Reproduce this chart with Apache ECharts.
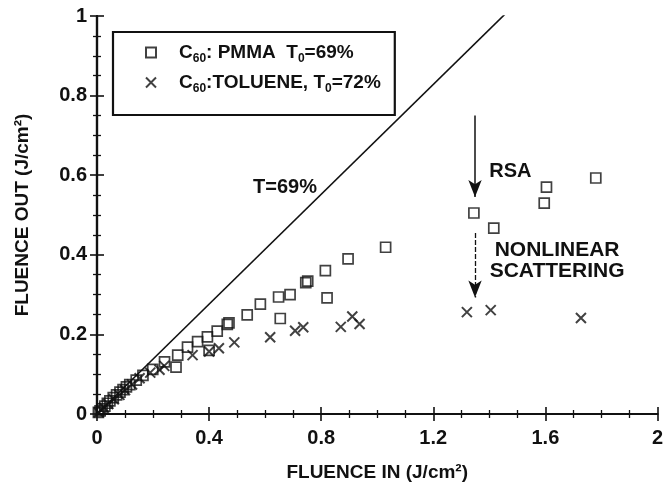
<!DOCTYPE html>
<html>
<head>
<meta charset="utf-8">
<script src="https://cdn.jsdelivr.net/npm/echarts@6/dist/echarts.min.js"></script>
<style>
  html, body { margin: 0; padding: 0; background: #fff; }
  #chart { width: 666px; height: 490px; }
</style>
</head>
<body>
<div id="chart"></div>
<script>
// C60 in PMMA: fluence in vs fluence out (J/cm^2)
const pmma = [
  [0.005, 0.004], [0.011, 0.008], [0.018, 0.013], [0.028, 0.020], [0.037, 0.027],
  [0.046, 0.033], [0.058, 0.041], [0.070, 0.048], [0.082, 0.055], [0.093, 0.061],
  [0.105, 0.068], [0.117, 0.074], [0.140, 0.085], [0.164, 0.097], [0.199, 0.112],
  [0.241, 0.131], [0.282, 0.118], [0.288, 0.148], [0.323, 0.168], [0.359, 0.182],
  [0.394, 0.194], [0.400, 0.160], [0.429, 0.208], [0.465, 0.225], [0.471, 0.229],
  [0.536, 0.249], [0.583, 0.276], [0.648, 0.294], [0.654, 0.240], [0.689, 0.300],
  [0.745, 0.330], [0.752, 0.334], [0.815, 0.360], [0.821, 0.292], [0.896, 0.390],
  [1.030, 0.419], [1.345, 0.505], [1.416, 0.467], [1.596, 0.530], [1.604, 0.570],
  [1.780, 0.593]
];
// C60 in toluene
const toluene = [
  [0.006, 0.004], [0.015, 0.010], [0.025, 0.016], [0.040, 0.025], [0.060, 0.037],
  [0.080, 0.048], [0.100, 0.060], [0.125, 0.074], [0.152, 0.090], [0.190, 0.104],
  [0.223, 0.111], [0.240, 0.121], [0.341, 0.148], [0.400, 0.157], [0.435, 0.165],
  [0.490, 0.180], [0.618, 0.193], [0.707, 0.209], [0.736, 0.218], [0.870, 0.219],
  [0.911, 0.245], [0.937, 0.226], [1.320, 0.256], [1.405, 0.261], [1.727, 0.241]
];
// linear transmission reference
const linearT = 0.69;
const linearX = [0, 2];
const xTicks = [0, 0.4, 0.8, 1.2, 1.6, 2];
const yTicks = [0, 0.2, 0.4, 0.6, 0.8, 1];

const FONT = '"Liberation Sans", Arial, Helvetica, sans-serif';
const INK = '#111';

const chart = echarts.init(document.getElementById('chart'), null, { renderer: 'canvas' });

const axisCommon = {
  type: 'value',
  axisLine: { show: true, lineStyle: { color: INK, width: 2.2 } },
  axisTick: { show: true, inside: true, length: 7, lineStyle: { color: INK, width: 1.6 } },
  minorTick: { show: true, splitNumber: 4, length: 4, lineStyle: { color: INK, width: 1.3 } },
  splitLine: { show: false },
  axisLabel: { color: INK, fontFamily: FONT, fontSize: 20, fontWeight: 'bold' }
};

const crossPath = 'path://M0,0L10,10M10,0L0,10';

const option = {
  animation: false,
  backgroundColor: '#fff',
  grid: { left: 97, right: 4, top: 16, bottom: 76 },
  legend: {
    orient: 'vertical',
    left: 113, top: 32,
    padding: [8, 14, 20, 32],
    itemGap: 5,
    itemWidth: 10, itemHeight: 10,
    borderColor: INK, borderWidth: 2.2,
    data: ['PMMA', 'TOLUENE'],
    formatter: function (name) {
      return name === 'PMMA'
        ? '{n|C}{s|60}{n|: PMMA  T}{s|0}{n|=69%}'
        : '{n|C}{s|60}{n|:TOLUENE, T}{s|0}{n|=72%}';
    },
    textStyle: {
      color: INK,
      padding: [0, 0, 0, 18],
      rich: {
        n: { fontFamily: FONT, fontSize: 19, fontWeight: 'bold', color: INK, lineHeight: 24 },
        s: { fontFamily: FONT, fontSize: 12, fontWeight: 'bold', color: INK, lineHeight: 24, padding: [13, 0, 0, 0] }
      }
    }
  },
  xAxis: [
    Object.assign({}, axisCommon, {
      min: 0, max: 2, interval: 0.4,
      name: 'FLUENCE IN (J/cm\u00B2)', nameLocation: 'middle', nameGap: 49,
      nameTextStyle: { color: INK, fontFamily: FONT, fontSize: 19, fontWeight: 'bold' },
      axisLabel: Object.assign({}, axisCommon.axisLabel, { margin: 14 })
    }),
    Object.assign({}, axisCommon, {
      position: 'top', min: 0, max: 2, interval: 0.4,
      axisLabel: { show: false }
    })
  ],
  yAxis: [
    Object.assign({}, axisCommon, {
      min: 0, max: 1, interval: 0.2,
      name: 'FLUENCE OUT (J/cm\u00B2)', nameLocation: 'middle', nameGap: 65,
      nameTextStyle: { color: INK, fontFamily: FONT, fontSize: 19, fontWeight: 'bold' },
      axisLabel: Object.assign({}, axisCommon.axisLabel, { margin: 10 })
    }),
    Object.assign({}, axisCommon, {
      position: 'right', min: 0, max: 1, interval: 0.2,
      axisLabel: { show: false }
    })
  ],
  series: [
    {
      name: 'T=69%',
      type: 'line',
      data: linearX.map(x => [x, linearT * x]),
      showSymbol: false,
      clip: true,
      lineStyle: { color: INK, width: 1.6 },
      silent: true
    },
    {
      name: 'PMMA',
      type: 'scatter',
      data: pmma,
      symbol: 'rect',
      symbolSize: 10,
      itemStyle: { color: 'rgba(0,0,0,0)', borderColor: INK, borderWidth: 1.7 }
    },
    {
      name: 'TOLUENE',
      type: 'scatter',
      data: toluene,
      symbol: crossPath,
      symbolSize: 10,
      itemStyle: { color: 'rgba(0,0,0,0)', borderColor: INK, borderWidth: 2 }
    },
    {
      // annotation arrows
      type: 'line',
      data: [],
      markLine: {
        silent: true,
        symbol: ['none', 'arrow'],
        symbolSize: [10, 17],
        label: { show: false },
        lineStyle: { color: INK, width: 1.5, type: 'solid' },
        data: [
          [{ coord: [1.349, 0.75] }, { coord: [1.349, 0.545] }],
          [{ coord: [1.349, 0.455], lineStyle: { type: [5, 2], width: 1.3 } }, { coord: [1.349, 0.293] }]
        ]
      }
    }
  ]
};

chart.setOption(option);

// text annotations placed in data coordinates
function at(x, y) { return chart.convertToPixel({ xAxisIndex: 0, yAxisIndex: 0 }, [x, y]); }
const labelStyle = { fill: INK, fontFamily: FONT, fontSize: 20, fontWeight: 'bold' };
const pT = at(0.671, 0.568);
const pR = at(1.40, 0.61);
const pN = at(1.642, 0.386);
chart.setOption({
  graphic: [
    { type: 'text', x: pT[0], y: pT[1], style: Object.assign({ text: 'T=69%', align: 'center', verticalAlign: 'middle' }, labelStyle) },
    { type: 'text', x: pR[0], y: pR[1], style: Object.assign({ text: 'RSA', align: 'left', verticalAlign: 'middle' }, labelStyle) },
    { type: 'text', x: pN[0], y: pN[1], style: Object.assign({}, labelStyle, { text: 'NONLINEAR\nSCATTERING', align: 'center', verticalAlign: 'middle', lineHeight: 21, fontSize: 21 }) }
  ]
});
</script>
</body>
</html>
